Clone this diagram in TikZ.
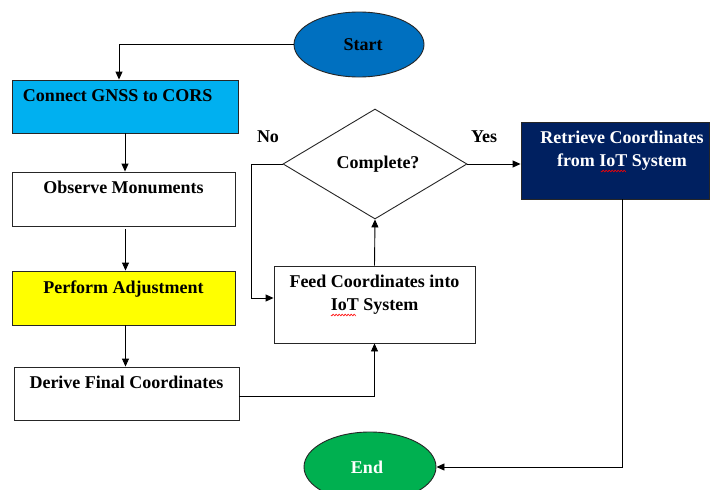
\documentclass[tikz,border=0pt]{standalone}
\usepackage{fontspec}
\setmainfont{Liberation Serif}
\usetikzlibrary{shapes.geometric,arrows.meta,calc}
\definecolor{cyanbox}{HTML}{00B0F0}
\definecolor{yellowbox}{HTML}{FFFF00}
\definecolor{navybox}{HTML}{002060}
\definecolor{startblue}{HTML}{0070C0}
\definecolor{endgreen}{HTML}{00B050}
\definecolor{edge}{HTML}{262626}
\newcommand\bxt[4][\centering]{\parbox[c][#3pt][t]{#2pt}{#1\vspace*{9.5pt}#4}}
\begin{document}
\begin{tikzpicture}[x=1pt,y=-1pt,
  txt/.style={font=\bfseries\fontsize{18}{23}\selectfont},
  box/.style={draw=edge, line width=0.9pt, inner sep=0pt, txt},
  term/.style={ellipse, draw=edge, line width=0.9pt, inner sep=0pt, txt},
  arr/.style={draw=black, line width=0.9pt, -{Triangle[length=8pt,width=7pt]}},
  lbl/.style={txt, inner sep=0pt},
  spell/.style={draw=red, line width=0.6pt}]
\clip (0,0) rectangle (710,490);
\fill[white] (0,0) rectangle (710,490);

\node[term, fill=startblue, minimum width=130pt, minimum height=65pt] (start) at (359,44.5) {\hspace*{8pt}Start};
\node[box, fill=cyanbox] (connect) at (125,106.5) {\bxt[\raggedright]{226}{53}{\hspace*{11pt}Connect GNSS to CORS}};
\node[box] (observe) at (123.5,199) {\bxt{223}{54}{Observe Monuments}};
\node[box, fill=yellowbox] (perform) at (123.5,298) {\bxt{223}{54}{Perform Adjustment}};
\node[box] (derive) at (126.5,393.5) {\bxt{225}{53}{Derive Final Coordinates}};
\node[box] (feed) at (374.5,304.5) {\bxt{201}{77}{Feed Coordinates into\\ IoT System}};
\node[diamond, draw=edge, line width=0.9pt, inner sep=0pt, aspect=1.67, minimum width=184pt, minimum height=110pt, txt] (dec) at (375,164) {\hspace*{6pt}Complete?};
\node[box, fill=navybox, text=white] (retrieve) at (615,160.5) {\bxt[\centering\leftskip=14pt plus 1fil]{188}{77}{Retrieve Coordinates\\ from IoT System}};
\node[term, fill=endgreen, text=white, minimum width=132pt, minimum height=70pt] (end) at (370,467) {End\hspace*{6pt}};

\node[lbl] (no) at (268,137) {No};
\node[lbl] (yes) at (484,137) {Yes};

% spell-check squiggles under "IoT"
\draw[spell] plot[domain=0:25, samples=80] ({331+\x},{315+0.9*sin(\x*120)});
\draw[spell] plot[domain=0:25, samples=80] ({601+\x},{171+0.9*sin(\x*120)});

\draw[arr] (start.west) -| ([xshift=-6pt]connect.north);
\draw[arr] (connect.south) -- (connect.south |- observe.north);
\draw[arr, shorten <=3pt] ([xshift=2pt]observe.south) -- ([xshift=2pt]perform.north);
\draw[arr] ([xshift=2pt]perform.south) -- ([xshift=2pt]perform.south |- derive.north);
\draw[arr] ([yshift=-2.5pt]derive.east) -| (feed.south);
\draw[arr] (feed.north) -- (dec.south);
\coordinate (nobend) at (251,298);
\draw[arr] (dec.west) -| (nobend) -- (nobend -| feed.west);
\draw[arr] (dec.east) -- (dec.east -| retrieve.west);
\draw[arr] ([xshift=7pt]retrieve.south) |- (end.east);
\end{tikzpicture}
\end{document}
